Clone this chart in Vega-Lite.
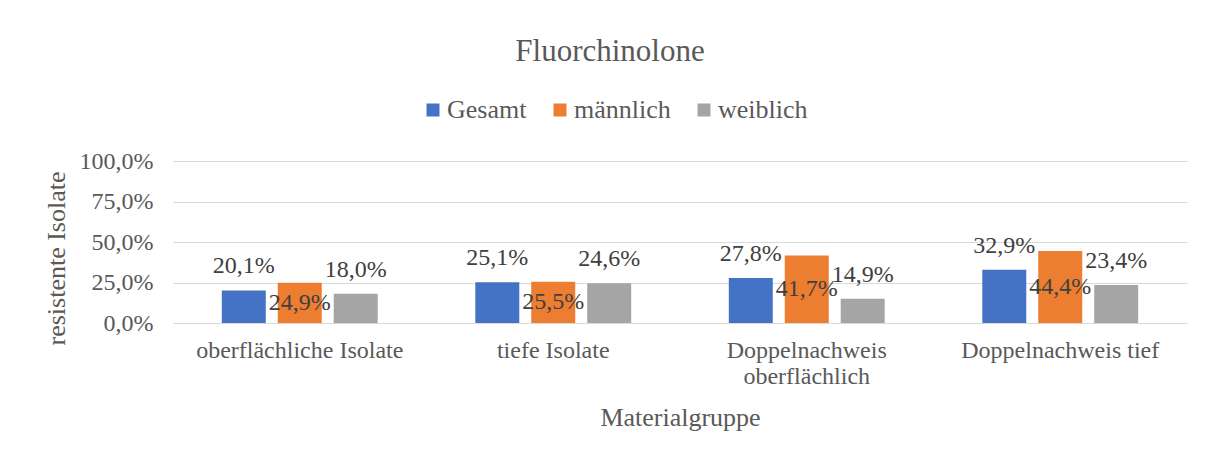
{
  "$schema": "https://vega.github.io/schema/vega-lite/v6.json",
  "width": 1014,
  "height": 162,
  "autosize": {"type": "none"},
  "padding": {"left": 173, "top": 161, "right": 25, "bottom": 131},
  "background": "white",
  "config": {
    "font": "Liberation Serif",
    "view": {"stroke": null},
    "locale": {"number": {"decimal": ",", "thousands": ".", "grouping": [3], "currency": ["", " €"]}}
  },
  "title": {
    "text": "Fluorchinolone",
    "fontSize": 31,
    "fontWeight": "normal",
    "color": "#595959",
    "anchor": "middle",
    "frame": "group",
    "dx": -70,
    "baseline": "alphabetic",
    "offset": 5
  },
  "data": {
    "values": [
      {"material": "oberflächliche Isolate", "gruppe": "Gesamt", "value": 0.201},
      {"material": "oberflächliche Isolate", "gruppe": "männlich", "value": 0.249},
      {"material": "oberflächliche Isolate", "gruppe": "weiblich", "value": 0.180},
      {"material": "tiefe Isolate", "gruppe": "Gesamt", "value": 0.251},
      {"material": "tiefe Isolate", "gruppe": "männlich", "value": 0.255},
      {"material": "tiefe Isolate", "gruppe": "weiblich", "value": 0.246},
      {"material": "Doppelnachweis oberflächlich", "gruppe": "Gesamt", "value": 0.278},
      {"material": "Doppelnachweis oberflächlich", "gruppe": "männlich", "value": 0.417},
      {"material": "Doppelnachweis oberflächlich", "gruppe": "weiblich", "value": 0.149},
      {"material": "Doppelnachweis tief", "gruppe": "Gesamt", "value": 0.329},
      {"material": "Doppelnachweis tief", "gruppe": "männlich", "value": 0.444},
      {"material": "Doppelnachweis tief", "gruppe": "weiblich", "value": 0.234}
    ]
  },
  "encoding": {
    "x": {
      "field": "material",
      "type": "nominal",
      "sort": ["oberflächliche Isolate", "tiefe Isolate", "Doppelnachweis oberflächlich", "Doppelnachweis tief"],
      "scale": {"paddingInner": 0.385, "paddingOuter": 0.1925},
      "axis": {
        "labelAngle": 0,
        "labelFontSize": 24,
        "labelColor": "#595959",
        "labelPadding": 15,
        "labelLimit": 400,
        "labelLineHeight": 26,
        "labelExpr": "datum.label == 'Doppelnachweis oberflächlich' ? ['Doppelnachweis', 'oberflächlich'] : datum.label",
        "domain": false,
        "ticks": false,
        "title": "Materialgruppe",
        "titleFontSize": 26,
        "titleFontWeight": "normal",
        "titleColor": "#595959",
        "titleBaseline": "alphabetic",
        "titleY": 102
      }
    },
    "xOffset": {
      "field": "gruppe",
      "type": "nominal",
      "sort": ["Gesamt", "männlich", "weiblich"],
      "scale": {"domain": ["Gesamt", "männlich", "weiblich"], "paddingInner": 0.214, "paddingOuter": 0}
    }
  },
  "layer": [
    {
      "mark": {"type": "bar"},
      "encoding": {
        "y": {
          "field": "value",
          "type": "quantitative",
          "scale": {"domain": [0, 1]},
          "axis": {
            "format": ".1%",
            "values": [0, 0.25, 0.5, 0.75, 1],
            "grid": true,
            "gridColor": "#D9D9D9",
            "gridWidth": 1,
            "domain": false,
            "ticks": false,
            "labelFontSize": 24,
            "labelColor": "#595959",
            "labelPadding": 20,
            "title": "resistente Isolate",
            "titleFontSize": 26,
            "titleFontWeight": "normal",
            "titleColor": "#595959",
            "titleAngle": 270,
            "titleBaseline": "middle",
            "titleX": -117,
            "titleY": 97
          }
        },
        "color": {
          "field": "gruppe",
          "type": "nominal",
          "scale": {"domain": ["Gesamt", "männlich", "weiblich"], "range": ["#4472C4", "#ED7D31", "#A5A5A5"]},
          "legend": {
            "orient": "none",
            "legendX": 247,
            "legendY": -64,
            "padding": 0,
            "direction": "horizontal",
            "title": null,
            "symbolType": "square",
            "symbolSize": 169,
            "symbolStrokeWidth": 0,
            "labelFontSize": 26,
            "labelColor": "#595959",
            "labelOffset": 1,
            "columnPadding": 20
          }
        }
      }
    },
    {
      "transform": [{"filter": "datum.gruppe != 'männlich'"}],
      "mark": {"type": "text", "baseline": "alphabetic", "dy": -17, "fontSize": 24, "color": "#404040"},
      "encoding": {
        "y": {"field": "value", "type": "quantitative", "scale": {"domain": [0, 1]}, "axis": null},
        "text": {"field": "value", "type": "quantitative", "format": ".1%"}
      }
    },
    {
      "transform": [{"filter": "datum.gruppe == 'männlich'"}],
      "mark": {"type": "text", "baseline": "middle", "fontSize": 24, "color": "#404040"},
      "encoding": {
        "y": {"field": "value", "type": "quantitative", "scale": {"domain": [0, 2]}, "axis": null},
        "text": {"field": "value", "type": "quantitative", "format": ".1%"}
      }
    }
  ],
  "resolve": {"scale": {"y": "independent"}}
}
